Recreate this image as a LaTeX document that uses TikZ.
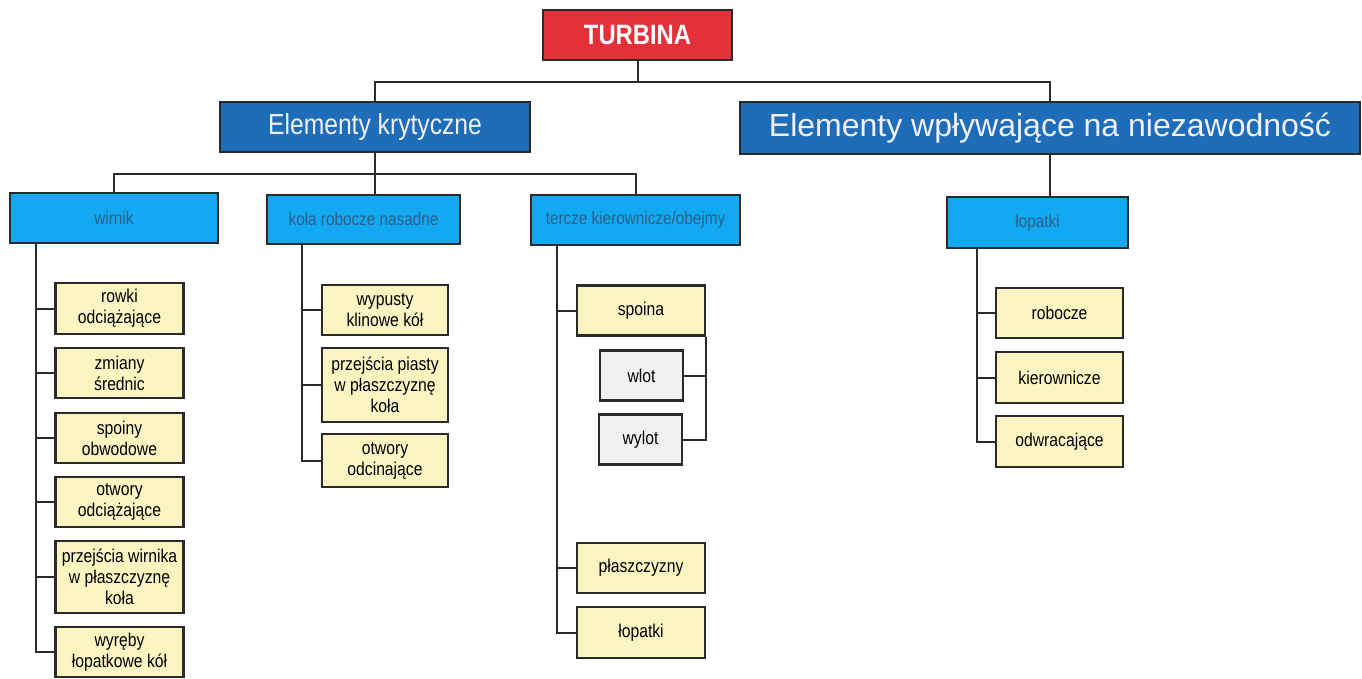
\documentclass[tikz,border=0pt]{standalone}
\usepackage{fontspec}
\setmainfont{Liberation Sans}
\newfontfamily\condfont{Liberation Sans}[FakeStretch=0.85]
\definecolor{turbred}{HTML}{E3313A}
\definecolor{headblue}{HTML}{1F6DB8}
\definecolor{groupblue}{HTML}{12A8F2}
\definecolor{groupink}{HTML}{2B5F88}
\definecolor{leafyellow}{HTML}{FCF5C2}
\definecolor{subgray}{HTML}{F1F1F1}
\definecolor{boxline}{HTML}{2A2A2A}
\tikzset{
    basebox/.style={draw=boxline, line width=2.4pt, inner sep=0pt, align=center,
        minimum height=50pt},
    rootbox/.style={basebox, fill=turbred, text=white,
        font=\condfont\bfseries\fontsize{28}{30}\selectfont},
    headbox/.style={basebox, fill=headblue, text=white!94!blue,
        font=\condfont\fontsize{29}{32}\selectfont},
    groupbox/.style={basebox, fill=groupblue, text=groupink,
        font=\condfont\fontsize{18}{21}\selectfont},
    leafbox/.style={basebox, fill=leafyellow, minimum width=128pt,
        font=\condfont\fontsize{18.5}{21}\selectfont},
    subbox/.style={leafbox, fill=subgray, minimum width=83pt},
    link/.style={draw=boxline, line width=2pt}
}

\begin{document}
\begin{tikzpicture}[x=1pt, y=-1pt]
	\useasboundingbox (0,0) rectangle (1362,678);
	
	% top
	\node[rootbox, minimum width=189pt] (turbina) at (637.5,35) {TURBINA};
	\node[headbox, minimum width=310pt] (krytyczne) at (375,127) {Elementy krytyczne};
	\node[headbox, minimum width=620pt, minimum height=52pt,
		font=\fontsize{32}{35}\selectfont] (wplyw) at (1050,128) {Elementy wpływające na niezawodność};
	
	% groups
	\node[groupbox, minimum width=208pt] (wirnik) at (114,218) {wirnik};
	\node[groupbox, minimum width=193pt, minimum height=49pt] (kola) at (363.5,219.5) {koła robocze nasadne};
	\node[groupbox, minimum width=209pt] (tercze) at (635.5,220) {tercze kierownicze/obejmy};
	\node[groupbox, minimum width=181pt, minimum height=51pt] (lopatki) at (1037.5,222.5) {łopatki};
	
	% wirnik
	\node[leafbox, minimum height=51pt] (rowki) at (119.5,308.5) {rowki\\odciążające};
	\node[leafbox] (zmiany) at (119.5,373) {zmiany\\średnic};
	\node[leafbox] (spoiny) at (119.5,438) {spoiny\\obwodowe};
	\node[leafbox] (otwory) at (119.5,502) {otwory\\odciążające};
	\node[leafbox, minimum height=72pt] (przejscia) at (119.5,577) {przejścia wirnika\\w płaszczyznę\\koła};
	\node[leafbox] (wyreby) at (119.5,652) {wyręby\\łopatkowe kół};
	
	% kola
	\node[leafbox, minimum width=126pt] (wypusty) at (385,310) {wypusty\\klinowe kół};
	\node[leafbox, minimum width=126pt, minimum height=74pt] (piasty) at (385,385) {przejścia piasty\\w płaszczyznę\\koła};
	\node[leafbox, minimum width=126pt, minimum height=53pt] (odcin) at (385,460.5) {otwory\\odcinające};
	
	% tercze
	\node[leafbox] (spoina) at (641,310.5) {spoina};
	\node[subbox] (wlot) at (641.5,375.5) {wlot};
	\node[subbox] (wylot) at (640.5,439.5) {wylot};
	\node[leafbox] (plaszcz) at (641,568) {płaszczyzny};
	\node[leafbox, minimum height=51pt] (lopatkiT) at (641,632.5) {łopatki};
	
	% lopatki
	\node[leafbox, minimum width=127pt] (robocze) at (1059.5,313) {robocze};
	\node[leafbox, minimum width=127pt, minimum height=51pt] (kierown) at (1059.5,377.5) {kierownicze};
	\node[leafbox, minimum width=127pt, minimum height=51pt] (odwrac) at (1059.5,441.5) {odwracające};
	
	% connectors
	\coordinate (bus1) at (0,82);
	\coordinate (bus2) at (0,174);
	\draw[link] (turbina.south) -- (turbina.south |- bus1);
	\draw[link] (krytyczne.north) |- (turbina.south |- bus1) -| (wplyw.north);
	\draw[link] (krytyczne.south) -- (krytyczne.south |- kola.north);
	\draw[link] (wirnik.north) |- (krytyczne.south |- bus2) -| (tercze.north);
	\draw[link] (wplyw.south) -- (wplyw.south |- lopatki.north);
	
	\coordinate (wtrunk) at ([xshift=27pt]wirnik.south west);
	\foreach \leaf in {rowki, zmiany, spoiny, otwory, przejscia, wyreby} {
			\draw[link] (wtrunk) |- (\leaf.west);
	}
	\coordinate (ktrunk) at ([xshift=36pt]kola.south west);
	\foreach \leaf in {wypusty, piasty, odcin} {
			\draw[link] (ktrunk) |- (\leaf.west);
	}
	\coordinate (ttrunk) at ([xshift=27pt]tercze.south west);
	\foreach \leaf in {spoina, plaszcz, lopatkiT} {
			\draw[link] (ttrunk) |- (\leaf.west);
	}
	\foreach \leaf in {wlot, wylot} {
			\draw[link] (spoina.south east) |- (\leaf.east);
	}
	\coordinate (ltrunk) at ([xshift=31pt]lopatki.south west);
	\foreach \leaf in {robocze, kierown, odwrac} {
			\draw[link] (ltrunk) |- (\leaf.west);
	}
	
\end{tikzpicture}
\end{document}
